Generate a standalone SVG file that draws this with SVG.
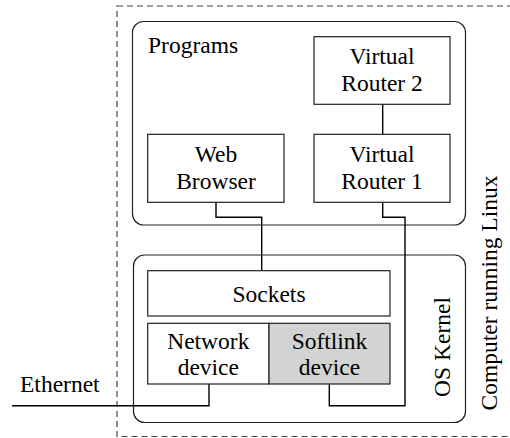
<svg xmlns="http://www.w3.org/2000/svg" width="510" height="438" viewBox="0 0 510 438" font-family="'Liberation Serif', 'Times New Roman', Times, serif" font-size="23.5">
<style>
.c{text-anchor:middle}
.box{fill:#fff;stroke:#222;stroke-width:1.2}
.grp{fill:none;stroke:#222;stroke-width:1.2}
.dash{fill:none;stroke:#444;stroke-width:1.2;stroke-dasharray:6,4}
.wire{fill:none;stroke:#000;stroke-width:1.4}
</style>
<rect width="510" height="438" fill="#fff"/>
<g id="computer">
<rect class="dash" x="117" y="6" width="420" height="430.5"/>
<text transform="translate(497,293) rotate(-90)" class="c">Computer running Linux</text>
</g>
<g id="programs">
<rect class="grp" x="132.5" y="21.5" width="333" height="203.5" rx="11"/>
<text x="148" y="52.5">Programs</text>
</g>
<g id="kernel">
<rect class="grp" x="133.5" y="255" width="332" height="167.5" rx="11"/>
<text transform="translate(450,347) rotate(-90)" class="c">OS Kernel</text>
</g>
<g id="connectors">
<path class="wire" d="M382.7,104.3V134.3"/>
<path class="wire" d="M216,202.3V217.3H261.7V270.7"/>
<path class="wire" d="M382.7,202.3V217.3H405V405.7H329.3V384"/>
<path class="wire" d="M12,405.7H209V384"/>
</g>
<g id="vr2">
<rect class="box" x="314" y="36.7" width="136" height="67.6"/>
<text class="c" x="382" y="64.3">Virtual</text>
<text class="c" x="382" y="90.7">Router 2</text>
</g>
<g id="vr1">
<rect class="box" x="314" y="134.3" width="136" height="68"/>
<text class="c" x="382" y="162.3">Virtual</text>
<text class="c" x="382" y="189">Router 1</text>
</g>
<g id="web">
<rect class="box" x="147.7" y="134.3" width="136.3" height="68"/>
<text class="c" x="216" y="162.3">Web</text>
<text class="c" x="216" y="189">Browser</text>
</g>
<g id="sockets">
<rect class="box" x="147.7" y="270.7" width="242.3" height="45.3"/>
<text class="c" x="269" y="302.3">Sockets</text>
</g>
<g id="netdev">
<rect class="box" x="147.7" y="323.3" width="121.3" height="60.7"/>
<text class="c" x="208.3" y="349">Network</text>
<text class="c" x="208.3" y="375">device</text>
</g>
<g id="softlink">
<rect class="box" x="269" y="323.3" width="121" height="60.7" style="fill:#d3d3d3"/>
<text class="c" x="329.5" y="349">Softlink</text>
<text class="c" x="329.5" y="375">device</text>
</g>
<g id="ethernet">
<text x="20" y="391.7">Ethernet</text>
</g>
</svg>
